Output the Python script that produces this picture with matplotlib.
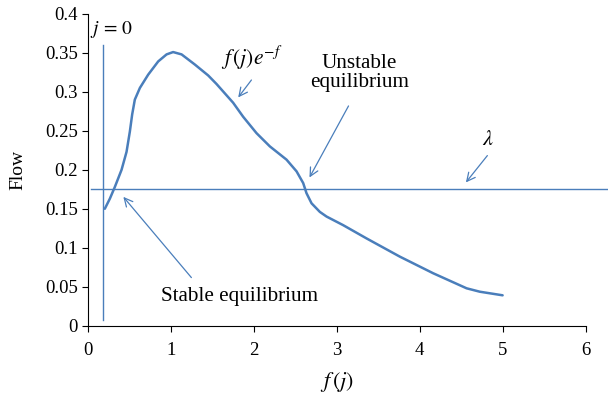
import matplotlib
matplotlib.use("Agg")
import matplotlib.pyplot as plt

plt.rcParams['font.family'] = ['Liberation Serif', 'DejaVu Serif']
plt.rcParams['mathtext.fontset'] = 'stix'

# Curve f(j) e^{-f}
curve_x = [0.201, 0.262, 0.322, 0.403, 0.463, 0.503, 0.531, 0.563, 0.624, 0.724, 0.845, 0.946, 1.025,
           1.127, 1.287, 1.448, 1.549, 1.749, 1.870, 2.031, 2.192, 2.393, 2.514, 2.594, 2.634, 2.695,
           2.795, 2.876, 3.076, 3.358, 3.760, 4.162, 4.565, 4.725, 5.0]
curve_y = [0.150, 0.163, 0.178, 0.200, 0.223, 0.249, 0.271, 0.290, 0.305, 0.322, 0.339, 0.348, 0.351,
           0.348, 0.335, 0.321, 0.310, 0.286, 0.268, 0.247, 0.230, 0.213, 0.198, 0.183, 0.170, 0.157,
           0.146, 0.140, 0.129, 0.112, 0.0886, 0.0673, 0.048, 0.0436, 0.039]

lam = 0.1755
lam_x = [0.034, 6.3]
j0_x = 0.183
j0_y = [0.007, 0.36]

xticks = [0, 1, 2, 3, 4, 5, 6]
yticks = [0, 0.05, 0.1, 0.15, 0.2, 0.25, 0.3, 0.35, 0.4]
ytick_labels = ['0', '0.05', '0.1', '0.15', '0.2', '0.25', '0.3', '0.35', '0.4']

blue = '#4a7ebb'

fig = plt.figure(figsize=(6.08, 3.96), dpi=100)
ax = fig.add_axes([0.145, 0.1775, 0.818, 0.7875])

ax.plot(curve_x, curve_y, color=blue, lw=1.8, solid_joinstyle='round', solid_capstyle='round')
ax.plot(lam_x, [lam, lam], color=blue, lw=1.0, clip_on=False)
ax.plot([j0_x, j0_x], j0_y, color=blue, lw=1.0)

ax.set_xlim(0, 6)
ax.set_ylim(0, 0.4)
ax.set_xticks(xticks)
ax.set_yticks(yticks)
ax.set_yticklabels(ytick_labels)
for s in ['top', 'right']:
    ax.spines[s].set_visible(False)
ax.tick_params(direction='out', length=4, labelsize=13.5)
ax.tick_params(axis='x', pad=8)

ax.set_xlabel(r'$f\,(j)$', fontsize=16, labelpad=8)
ax.set_ylabel('Flow', fontsize=14, labelpad=13)

ap = dict(arrowstyle='->', color=blue, lw=0.9, mutation_scale=15)
ax.text(0.02, 0.38, r'$j\,=\,0$', fontsize=14, ha='left', va='center')
ax.annotate('', xy=(1.79, 0.290), xytext=(1.99, 0.318), arrowprops=ap)
ax.text(1.975, 0.344, r'$f\,(j)e^{-f}$', fontsize=15.5, ha='center', va='center')
ax.annotate('', xy=(2.654, 0.187), xytext=(3.157, 0.285), arrowprops=ap)
ax.text(3.27, 0.324, 'Unstable\nequilibrium', fontsize=15.2, ha='center', va='center', linespacing=1.05)
ax.annotate('', xy=(4.536, 0.181), xytext=(4.837, 0.221), arrowprops=ap)
ax.text(4.825, 0.238, r'$\lambda$', fontsize=16, ha='center', va='center')
ax.annotate('', xy=(0.403, 0.168), xytext=(1.267, 0.059), arrowprops=ap)
ax.text(1.83, 0.037, 'Stable equilibrium', fontsize=15.2, ha='center', va='center')

fig.savefig('out.png', dpi=100)
